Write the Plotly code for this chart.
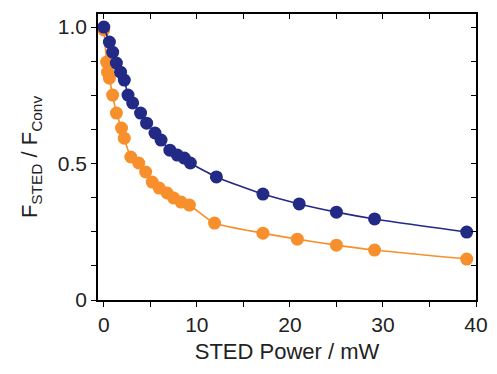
import plotly.graph_objects as go

# STED power (mW) and normalized fluorescence F_STED / F_Conv
blue_x = [0.0, 0.6, 0.95, 1.35, 1.8, 2.2, 2.6, 3.1, 3.95, 4.6, 5.5, 6.15, 7.1, 7.9, 8.65, 9.3,
          12.1, 17.1, 21.0, 25.0, 29.1, 39.0]
blue_y = [1.0, 0.945, 0.908, 0.868, 0.835, 0.806, 0.751, 0.722, 0.685, 0.648, 0.612, 0.586, 0.549,
          0.531, 0.520, 0.502, 0.451, 0.388, 0.352, 0.322, 0.297, 0.249]

orange_x = [0.0, 0.3, 0.4, 0.6, 0.95, 1.35, 1.9, 2.2, 2.9, 3.75, 4.5, 5.2, 5.95, 6.8, 7.5, 8.3, 9.2,
            11.9, 17.1, 20.8, 25.0, 29.1, 39.0]
orange_y = [0.99, 0.872, 0.835, 0.813, 0.751, 0.685, 0.630, 0.593, 0.524, 0.502, 0.469, 0.432, 0.410,
            0.392, 0.374, 0.359, 0.348, 0.282, 0.245, 0.223, 0.201, 0.183, 0.150]

x_tickvals = [0, 10, 20, 30, 40]
x_ticktext = ["0", "10", "20", "30", "40"]
y_tickvals = [0, 0.5, 1.0]
y_ticktext = ["0", "0.5", "1.0"]

BLUE = "#222a86"
ORANGE = "#f7902c"
FONT = "Liberation Sans, Arial, sans-serif"
XR = [-0.625, 40]
YR = [0, 1.048]

fig = go.Figure()
fig.add_trace(go.Scatter(x=orange_x, y=orange_y, mode="lines+markers",
                         line=dict(color=ORANGE, width=1.6, shape="spline", smoothing=0.6),
                         marker=dict(color=ORANGE, size=13), cliponaxis=False, showlegend=False))
fig.add_trace(go.Scatter(x=blue_x, y=blue_y, mode="lines+markers",
                         line=dict(color=BLUE, width=1.6, shape="spline", smoothing=0.6),
                         marker=dict(color=BLUE, size=13), cliponaxis=False, showlegend=False))
# invisible trace to carry mirror axes
fig.add_trace(go.Scatter(x=[None], y=[None], xaxis="x2", yaxis="y2", showlegend=False))

axis_common = dict(showgrid=False, zeroline=False, showline=True, linecolor="black", linewidth=1.5,
                   tickcolor="black", ticklen=5, tickwidth=1.3)

fig.update_layout(
    width=497, height=374,
    margin=dict(l=98, r=9, t=14, b=74),
    paper_bgcolor="white", plot_bgcolor="white",
    font=dict(family=FONT, color="#222222"),
    xaxis=dict(range=XR, tickmode="array", tickvals=x_tickvals, ticktext=x_ticktext,
               ticks="outside", tickfont=dict(size=21), ticklabeloverflow="allow",
               minor=dict(tickvals=[5, 15, 25, 35], ticks="outside", ticklen=5, tickcolor="black"),
               title=dict(text="STED Power / mW", font=dict(size=22), standoff=9),
               **axis_common),
    yaxis=dict(range=YR, tickmode="array", tickvals=y_tickvals, ticktext=y_ticktext,
               ticks="outside", tickfont=dict(size=21), ticklabeloverflow="allow",
               minor=dict(tickvals=[0.125, 0.25, 0.375, 0.625, 0.75, 0.875], ticks="outside",
                          ticklen=5, tickcolor="black"),
               title=dict(text="F<sub>STED</sub> / F<sub>Conv</sub>", font=dict(size=22), standoff=14),
               **axis_common),
    xaxis2=dict(range=XR, overlaying="x", side="top", tickmode="array",
                tickvals=[0, 5, 10, 15, 20, 25, 30, 35, 40], ticks="inside", showticklabels=False,
                **axis_common),
    yaxis2=dict(range=YR, overlaying="y", side="right", tickmode="array",
                tickvals=[0, 0.125, 0.25, 0.375, 0.5, 0.625, 0.75, 0.875, 1.0], ticks="inside",
                showticklabels=False, **axis_common),
)

fig.write_html("out.html")
